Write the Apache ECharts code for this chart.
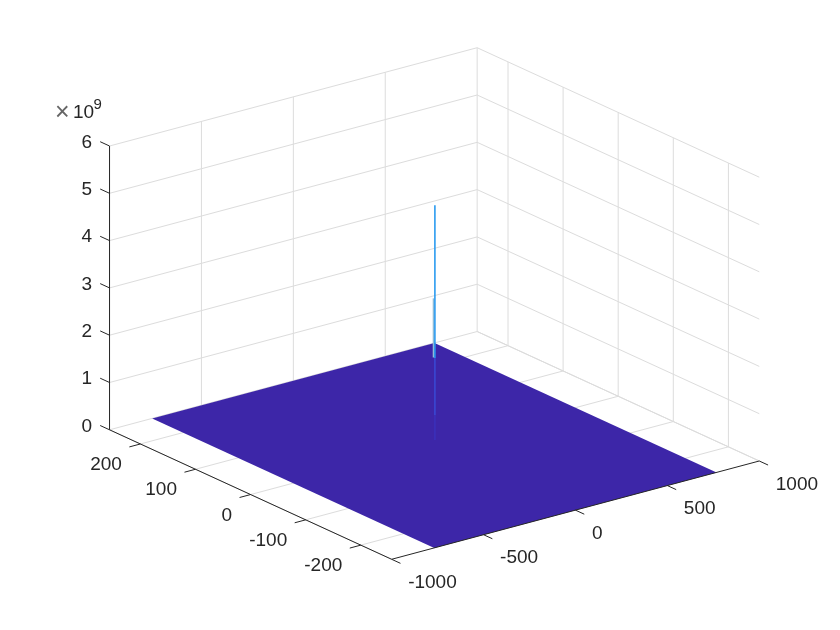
<!DOCTYPE html>
<html>
<head>
<meta charset="utf-8">
<style>
html, body { margin: 0; padding: 0; background: #fff; }
#chart { width: 840px; height: 630px; }
</style>
<script src="https://cdn.jsdelivr.net/npm/echarts@6/dist/echarts.min.js"></script>
</head>
<body>
<div id="chart"></div>
<script>
// tick values of the three axes
const xTicks = [-1000, -500, 0, 500, 1000];
const yTicks = [-200, -100, 0, 100, 200];
const zTicks = [0, 1, 2, 3, 4, 5, 6];
const xLimits = [-1000, 1000];
const yLimits = [-256, 256];
const zLimits = [0, 6];

// surface footprint, flat near zero (z in units of 1e9)
const surfaceX = [-768, 768];
const surfaceY = [-256, 256];
const surfaceZ = 0.0;

// central spike at x=0,y=0: heights, top to bottom
const spikeZ = [5.08, 1.85, 0.64, 0.12];
const spikeColors = ['#2a9bf0', '#3a48d2', '#3b30ba'];

// neighbouring cell, a little lower than the peak
const sideSpikeY = 1.6;
const sideSpikeZ = [3.1, 1.85];
const sideSpikeColor = '#8fbcd8';

const ink = '#262626';
const gridInk = '#dcdcdc';
const surfaceColor = '#3d26a8';

// orthographic view fitted to the picture, px per data unit
const view = {
    ox: 434.4, oy: 445.4,
    xx: 0.1838, xy: -0.04915,
    yx: -0.551, yy: -0.2529,
    zy: -47.3
};
function project(x, y, z) {
    return [
        view.ox + view.xx * x + view.yx * y,
        view.oy + view.xy * x + view.yy * y + view.zy * z
    ];
}

// 3d segments, [x1,y1,z1,x2,y2,z2]
let gridSegs = [];
zTicks.forEach(z => {
    gridSegs.push([xLimits[0], yLimits[1], z, xLimits[1], yLimits[1], z]);
    gridSegs.push([xLimits[1], yLimits[1], z, xLimits[1], yLimits[0], z]);
});
xTicks.forEach(x => {
    gridSegs.push([x, yLimits[1], zLimits[0], x, yLimits[1], zLimits[1]]);
    gridSegs.push([x, yLimits[0], 0, x, yLimits[1], 0]);
});
yTicks.forEach(y => {
    gridSegs.push([xLimits[1], y, zLimits[0], xLimits[1], y, zLimits[1]]);
    gridSegs.push([xLimits[0], y, 0, xLimits[1], y, 0]);
});

const tickLenX = 60, tickLenY = 16, tickLenZ = 17;
let axisSegs = [
    [xLimits[0], yLimits[1], zLimits[0], xLimits[0], yLimits[1], zLimits[1]],
    [xLimits[0], yLimits[1], 0, xLimits[0], yLimits[0], 0],
    [xLimits[0], yLimits[0], 0, xLimits[1], yLimits[0], 0]
];
zTicks.forEach(z => axisSegs.push([xLimits[0], yLimits[1], z, xLimits[0], yLimits[1] + tickLenZ, z]));
yTicks.forEach(y => axisSegs.push([xLimits[0], y, 0, xLimits[0] - tickLenX, y, 0]));
xTicks.forEach(x => axisSegs.push([x, yLimits[0], 0, x, yLimits[0] - tickLenY, 0]));

const surfaceCorners = [
    [surfaceX[0], surfaceY[1], surfaceZ],
    [surfaceX[1], surfaceY[1], surfaceZ],
    [surfaceX[1], surfaceY[0], surfaceZ],
    [surfaceX[0], surfaceY[0], surfaceZ]
];

let spikeSegs = [[0, sideSpikeY, sideSpikeZ[0], 0, sideSpikeY, sideSpikeZ[1], sideSpikeColor]];
for (let i = 0; i < spikeZ.length - 1; i++) {
    spikeSegs.push([0, -0.9, spikeZ[i], 0, -0.9, spikeZ[i + 1], spikeColors[i]]);
}

// labels: [text, x, y, z, pixel offset x, pixel offset y, align]
let labels = [];
zTicks.forEach(z => labels.push([String(z), xLimits[0], yLimits[1], z, -17.5, -3.5, 'right']));
yTicks.forEach(y => labels.push([String(y), xLimits[0], y, 0, -18.5, 21, 'right']));
xTicks.forEach(x => labels.push([String(x), x, yLimits[0], 0, 16.5, 23.5, 'left']));

function lineItem(api, seg, color, width) {
    const a = project(seg[0], seg[1], seg[2]);
    const b = project(seg[3], seg[4], seg[5]);
    const p1 = api.coord(a), p2 = api.coord(b);
    return {
        type: 'line',
        shape: { x1: p1[0], y1: p1[1], x2: p2[0], y2: p2[1] },
        style: { stroke: color, lineWidth: width, fill: null }
    };
}

const option = {
    animation: false,
    backgroundColor: '#fff',
    grid: { left: 0, top: 0, width: 840, height: 630 },
    xAxis: { type: 'value', min: 0, max: 840, show: false },
    yAxis: { type: 'value', min: 0, max: 630, inverse: true, show: false },
    series: [
        {
            type: 'custom', coordinateSystem: 'cartesian2d', silent: true, clip: false,
            data: gridSegs,
            renderItem: (params, api) => lineItem(api, gridSegs[params.dataIndex], gridInk, 1)
        },
        {
            type: 'custom', coordinateSystem: 'cartesian2d', silent: true, clip: false,
            data: [0],
            renderItem: (params, api) => ({
                type: 'polygon',
                shape: { points: surfaceCorners.map(c => api.coord(project(c[0], c[1], c[2]))) },
                style: { fill: surfaceColor }
            })
        },
        {
            type: 'custom', coordinateSystem: 'cartesian2d', silent: true, clip: false,
            data: spikeSegs,
            renderItem: (params, api) => {
                const s = spikeSegs[params.dataIndex];
                return lineItem(api, s, s[6], 1.6);
            }
        },
        {
            type: 'custom', coordinateSystem: 'cartesian2d', silent: true, clip: false,
            data: axisSegs,
            renderItem: (params, api) => lineItem(api, axisSegs[params.dataIndex], ink, 1)
        },
        {
            type: 'custom', coordinateSystem: 'cartesian2d', silent: true, clip: false,
            data: labels,
            renderItem: (params, api) => {
                const l = labels[params.dataIndex];
                const p = api.coord(project(l[1], l[2], l[3]));
                return {
                    type: 'text',
                    x: p[0] + l[4], y: p[1] + l[5],
                    style: {
                        text: l[0], fill: ink, align: l[6], verticalAlign: 'middle',
                        font: '19px "Liberation Sans"'
                    }
                };
            }
        }
    ],
    graphic: [
        { type: 'text', x: 55, y: 101, style: { text: '×', fill: '#666', font: '25px "Liberation Sans"' } },
        { type: 'text', x: 73, y: 103.5, style: { text: '10', fill: ink, font: '19px "Liberation Sans"' } },
        { type: 'text', x: 93.5, y: 97, style: { text: '9', fill: ink, font: '15px "Liberation Sans"' } }
    ]
};

const chart = echarts.init(document.getElementById('chart'));
chart.setOption(option);
</script>
</body>
</html>
